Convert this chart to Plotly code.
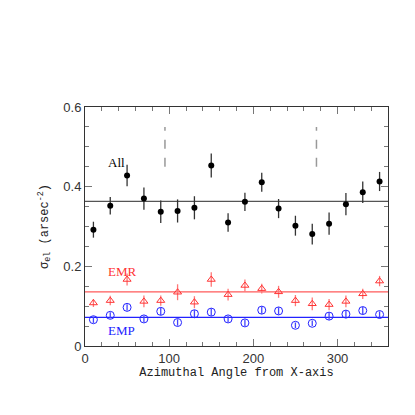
import plotly.graph_objects as go

angles = [10, 30, 50, 70, 90, 110, 130, 150, 170, 190, 210, 230, 250, 270, 290, 310, 330, 350]

all_vals = [0.292, 0.352, 0.428, 0.370, 0.337, 0.339, 0.347, 0.453, 0.310, 0.362,
            0.411, 0.345, 0.302, 0.281, 0.307, 0.356, 0.386, 0.413]
all_err = [0.020, 0.022, 0.027, 0.028, 0.028, 0.029, 0.029, 0.030, 0.023, 0.023,
           0.024, 0.024, 0.025, 0.026, 0.028, 0.028, 0.027, 0.024]

emr_vals = [0.108, 0.114, 0.167, 0.112, 0.114, 0.135, 0.110, 0.167, 0.129, 0.152,
            0.144, 0.136, 0.114, 0.106, 0.104, 0.112, 0.131, 0.163]
emr_err = [0.010, 0.012, 0.015, 0.015, 0.013, 0.020, 0.015, 0.018, 0.015, 0.015,
           0.012, 0.015, 0.014, 0.016, 0.014, 0.015, 0.013, 0.013]

emp_vals = [0.066, 0.077, 0.097, 0.068, 0.087, 0.059, 0.081, 0.085, 0.068, 0.058,
            0.090, 0.088, 0.052, 0.057, 0.075, 0.080, 0.089, 0.079]
emp_err = [0.008, 0.008, 0.008, 0.008, 0.009, 0.008, 0.009, 0.009, 0.008, 0.008,
           0.009, 0.009, 0.007, 0.007, 0.009, 0.009, 0.009, 0.008]

mean_all = 0.363
mean_emr = 0.136
mean_emp = 0.072
line_x = [0, 360]

dash_x = [95, 275]
dash_y = [0.45, 0.55]

x_ticks = [0, 100, 200, 300]
y_ticks = [0, 0.2, 0.4, 0.6]
y_tick_text = ["0", "0.2", "0.4", "0.6"]

fig = go.Figure()

# mean lines
fig.add_trace(go.Scatter(x=line_x, y=[mean_all, mean_all], mode="lines",
                         line=dict(color="#555555", width=1.2), hoverinfo="skip"))
fig.add_trace(go.Scatter(x=line_x, y=[mean_emr, mean_emr], mode="lines",
                         line=dict(color="#ff5a5a", width=1.2), hoverinfo="skip"))
fig.add_trace(go.Scatter(x=line_x, y=[mean_emp, mean_emp], mode="lines",
                         line=dict(color="#2222ff", width=1.2), hoverinfo="skip"))

# dashed vertical markers
for dx in dash_x:
    fig.add_trace(go.Scatter(x=[dx, dx], y=dash_y, mode="lines",
                             line=dict(color="#999999", width=1.5, dash="dash"), hoverinfo="skip"))

# data
fig.add_trace(go.Scatter(x=angles, y=all_vals, mode="markers",
                         marker=dict(color="black", size=6, symbol="circle"),
                         error_y=dict(type="data", array=all_err, color="#333333", thickness=1.3, width=0)))
fig.add_trace(go.Scatter(x=angles, y=emr_vals, mode="markers",
                         marker=dict(color="#ff3333", size=7, symbol="triangle-up-open", line=dict(width=1)),
                         error_y=dict(type="data", array=emr_err, color="#ff7777", thickness=1.3, width=0)))
fig.add_trace(go.Scatter(x=angles, y=emp_vals, mode="markers",
                         marker=dict(color="#2222ff", size=8, symbol="circle-open", line=dict(width=1)),
                         error_y=dict(type="data", array=emp_err, color="#4444ff", thickness=1.3, width=0)))

# labels
fig.add_annotation(x=25, y=0.46, text="All", showarrow=False, xanchor="left",
                   font=dict(family="Liberation Serif", size=13, color="black"))
fig.add_annotation(x=25, y=0.188, text="EMR", showarrow=False, xanchor="left",
                   font=dict(family="Liberation Serif", size=13, color="#ff3333"))
fig.add_annotation(x=25, y=0.039, text="EMP", showarrow=False, xanchor="left",
                   font=dict(family="Liberation Serif", size=13, color="#2222ff"))

axis_common = dict(
    showgrid=False, zeroline=False, showline=True, linecolor="#333333", linewidth=1,
    mirror="allticks", ticks="inside", ticklen=7, tickcolor="#777777", tickwidth=1,
    tickfont=dict(family="Liberation Sans", size=13, color="#333333"),
)

fig.update_xaxes(range=[0, 360], tickvals=x_ticks, ticktext=[str(v) for v in x_ticks],
                 minor=dict(ticks="inside", dtick=20, ticklen=4, tickcolor="#777777", showgrid=False),
                 title=dict(text="Azimuthal Angle from X-axis", standoff=3,
                            font=dict(family="Liberation Mono", size=12, color="#222222")),
                 **axis_common)
fig.update_yaxes(range=[0, 0.6], tickvals=y_ticks, ticktext=y_tick_text,
                 minor=dict(ticks="inside", dtick=0.05, ticklen=4, tickcolor="#777777", showgrid=False),
                 title=dict(text="σ<sub>el</sub> (arsec<sup>-2</sup>)", standoff=12,
                            font=dict(family="Liberation Mono", size=12, color="#222222")),
                 **axis_common)

fig.update_layout(width=415, height=415, showlegend=False,
                  margin=dict(l=77, r=35, t=99, b=77),
                  paper_bgcolor="white", plot_bgcolor="white")

fig.write_html("out.html")
